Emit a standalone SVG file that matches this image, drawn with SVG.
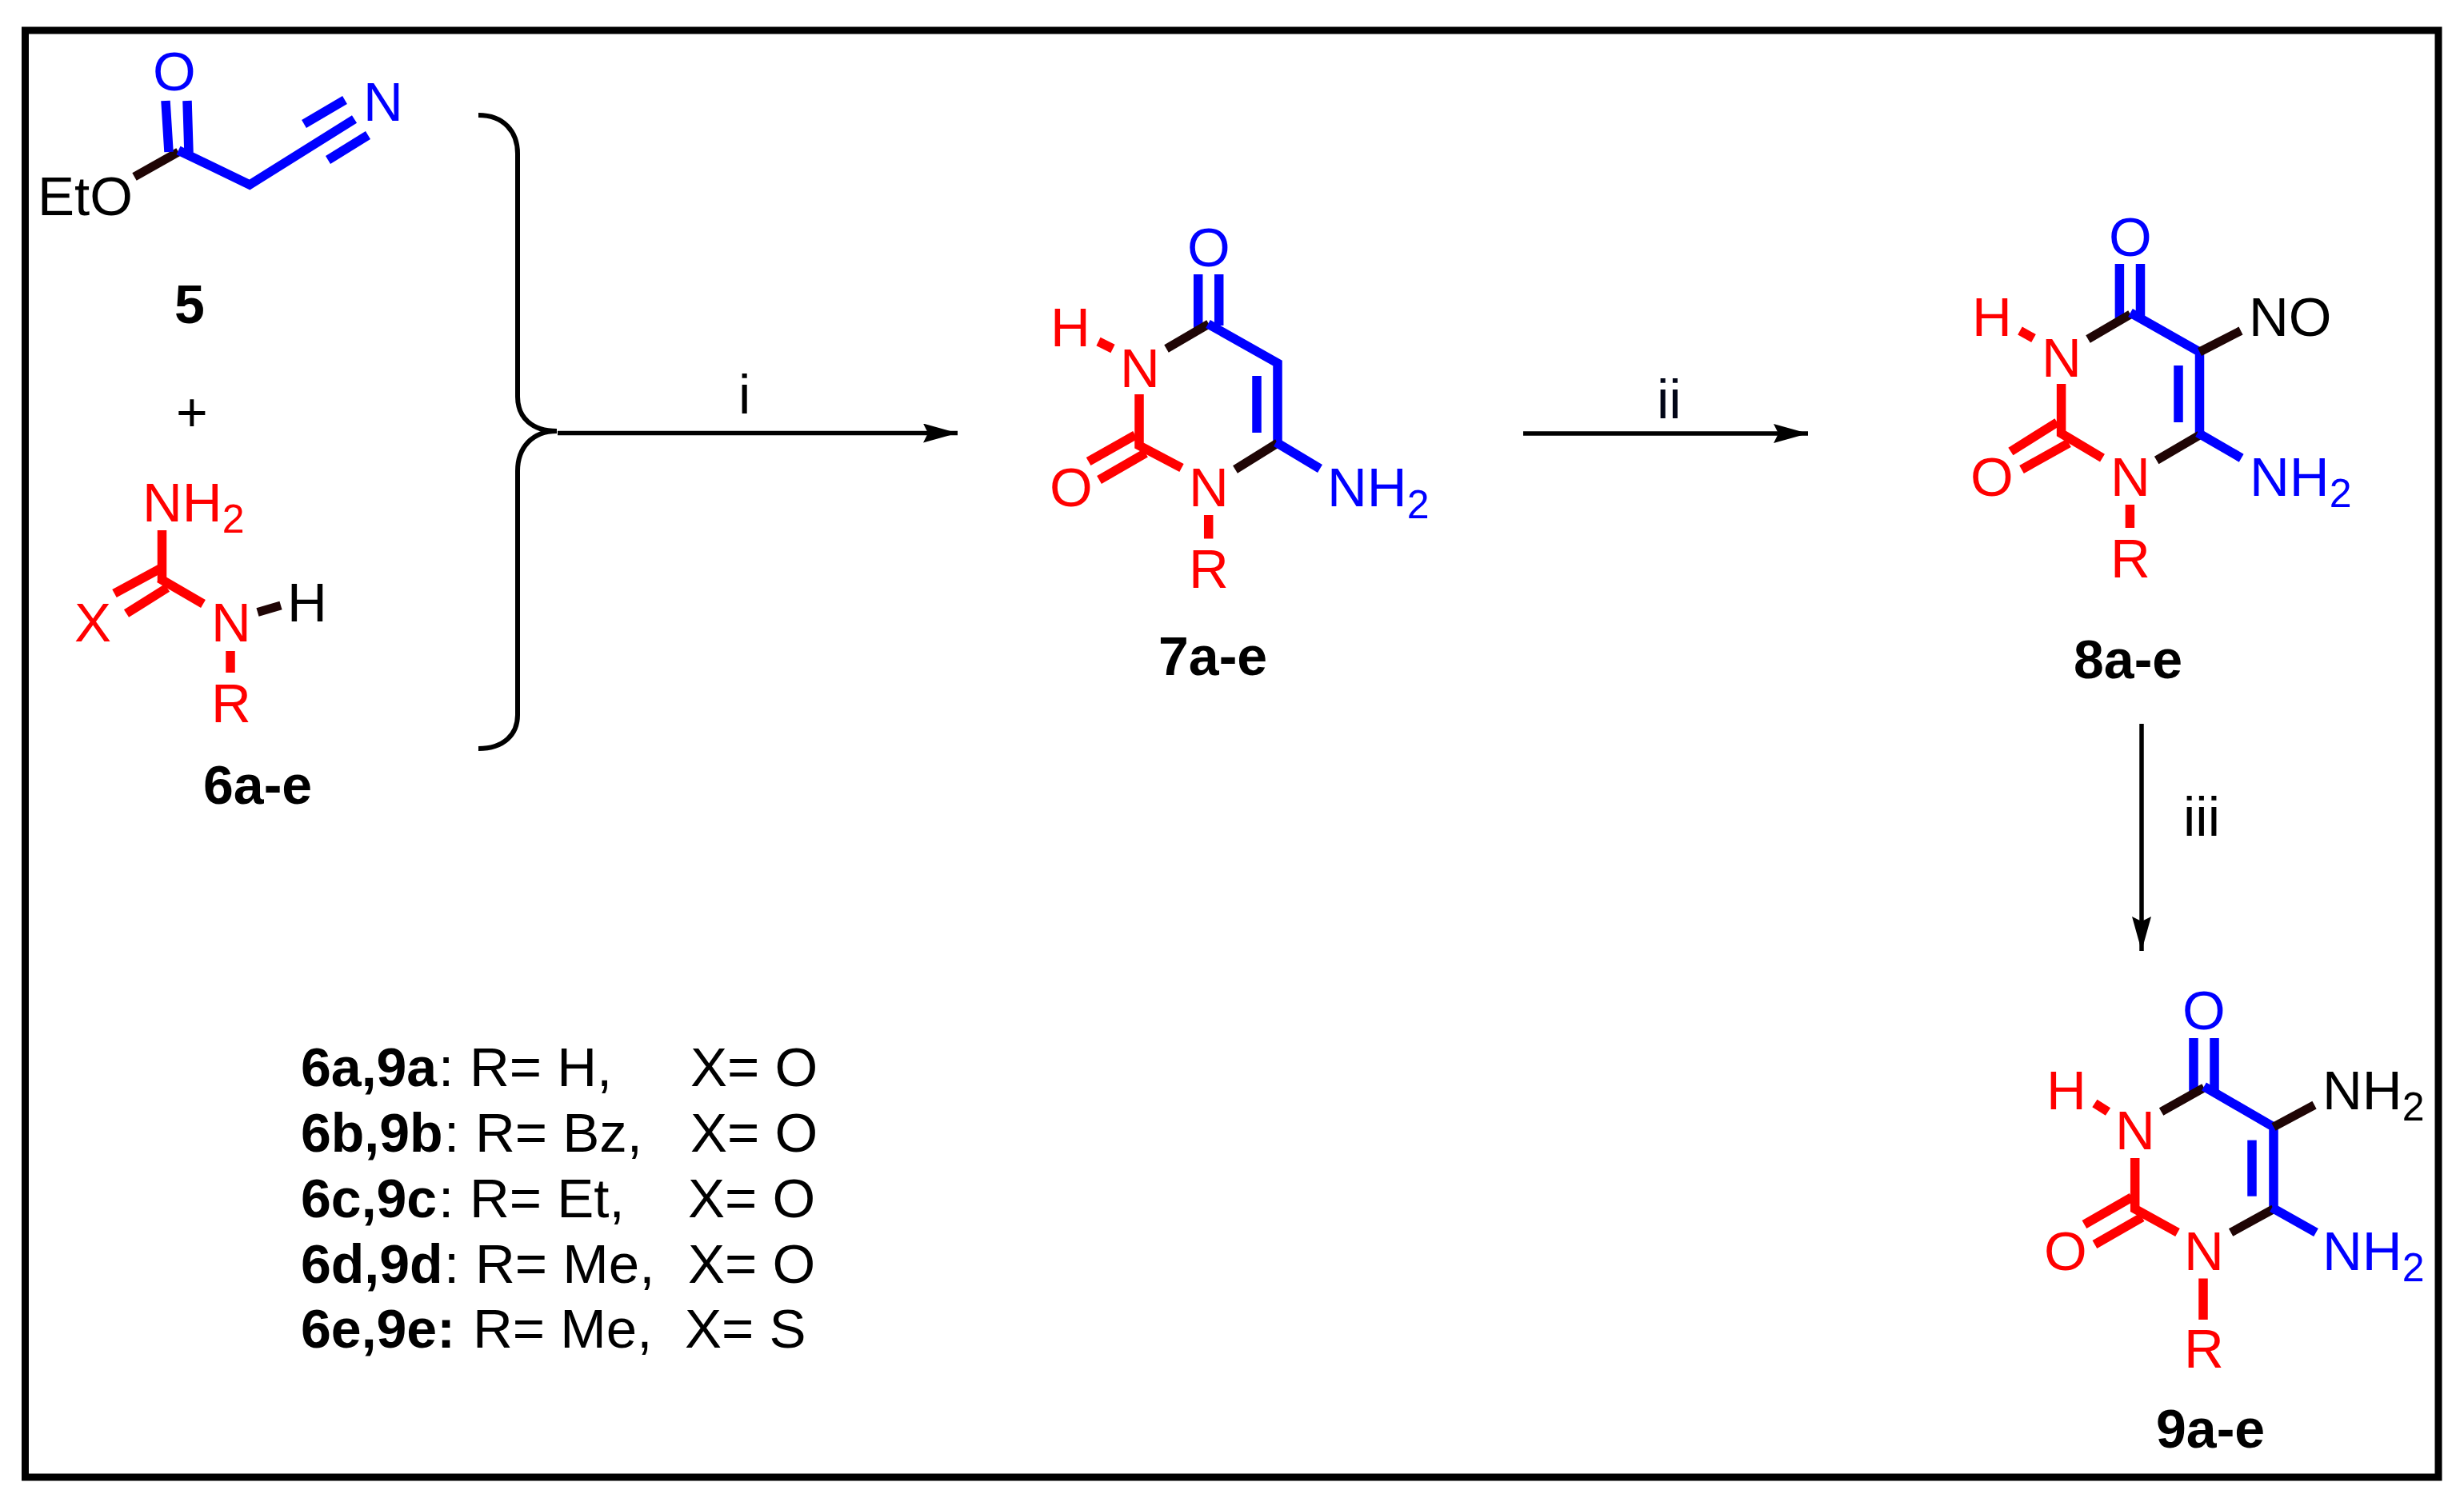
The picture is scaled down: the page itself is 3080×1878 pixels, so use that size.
<svg xmlns="http://www.w3.org/2000/svg" width="3080" height="1878" viewBox="0 0 3080 1878">
<style>
text{font-family:"Liberation Sans",Arial,sans-serif;font-size:69px;fill:#000}
.b{font-weight:700;font-size:68px}
.r{fill:#f00}.u{fill:#00f}
.s{font-size:50px}
line,path.l{fill:none;stroke-linecap:butt;stroke-linejoin:miter}
.R{stroke:#f00;stroke-width:11.500}
.U{stroke:#00f;stroke-width:11.500}
.K{stroke:#1f0505;stroke-width:11}
.A{stroke:#000;stroke-width:5.500}
</style>
<defs>
<marker id="head" markerUnits="userSpaceOnUse" markerWidth="50" markerHeight="30" refX="43" refY="12" orient="auto">
<path d="M0 0L43 12L0 24L6 12Z" fill="#000"/>
</marker>
</defs>
<rect id="frame" x="31.500" y="38" width="3016.500" height="1809" fill="#fff" stroke="#000" stroke-width="9"/>

<g id="connectors">
<path class="l" d="M598 144C630 144 647 165 647 192V496C647 522 665 539 696 539C665 539 647 560 647 589V894C647 918 630 936 598 936" stroke="#000" stroke-width="6"/>
<line class="A" x1="697" y1="541.500" x2="1197" y2="541.500" marker-end="url(#head)"/>
<line class="A" x1="1904" y1="542" x2="2260" y2="542" marker-end="url(#head)"/>
<line class="A" x1="2677" y1="905" x2="2677" y2="1189" marker-end="url(#head)"/>
<text x="923" y="517">i</text>
<text x="2071" y="523" style="fill:#020617">ii</text>
<text x="2729" y="1045">iii</text>
</g>

<g id="mol-5">
<line class="K" x1="168" y1="221" x2="223" y2="190"/>
<line class="U" x1="207" y1="126" x2="211" y2="190"/>
<line class="U" x1="234" y1="126" x2="236" y2="191"/>
<path class="l U" d="M223 188L312 231L443 149"/>
<line class="U" x1="380" y1="155" x2="431" y2="125"/>
<line class="U" x1="410" y1="200" x2="460" y2="169"/>
<text x="47" y="269">EtO</text>
<text x="191" y="113" class="u">O</text>
<text x="454" y="151" class="u">N</text>
<text x="218" y="404" class="b">5</text>
<text x="220" y="539" style="font-size:68px">+</text>
</g>

<g id="mol-6">
<line class="R" x1="202.500" y1="663" x2="202.500" y2="727"/>
<line class="R" x1="202" y1="710" x2="143" y2="742"/>
<line class="R" x1="209" y1="735" x2="158" y2="767"/>
<line class="R" x1="199" y1="723" x2="254" y2="755"/>
<line class="K" x1="322" y1="765.500" x2="351" y2="757"/>
<line class="R" x1="288" y1="814" x2="288" y2="841"/>
<text x="178" y="652" class="r">NH<tspan class="s" dy="14">2</tspan></text>
<text x="93" y="802" class="r">X</text>
<text x="264" y="802" class="r">N</text>
<text x="359" y="777">H</text>
<text x="264" y="903" class="r">R</text>
<text x="254" y="1005" class="b">6a-e</text>
</g>

<g id="mol-7">
<line class="U" x1="1497.700" y1="343" x2="1497.700" y2="413"/>
<line class="U" x1="1523.700" y1="343" x2="1523.700" y2="407"/>
<line class="K" x1="1458" y1="436" x2="1511" y2="405"/>
<path class="l U" d="M1510 405L1597 454V554"/>
<line class="U" x1="1571" y1="470" x2="1571" y2="541"/>
<line class="K" x1="1597" y1="554" x2="1544" y2="587"/>
<line class="U" x1="1595" y1="553" x2="1650" y2="586"/>
<line class="R" x1="1373" y1="427" x2="1391" y2="436"/>
<path class="l R" d="M1424 493V557L1477 585"/>
<line class="R" x1="1419" y1="544" x2="1360.600" y2="577"/>
<line class="R" x1="1432" y1="566.500" x2="1374" y2="600"/>
<line class="R" x1="1510.700" y1="644" x2="1510.700" y2="673.500"/>
<text x="1484" y="333" class="u">O</text>
<text x="1313" y="433" class="r">H</text>
<text x="1400" y="483.700" class="r">N</text>
<text x="1312" y="633" class="r">O</text>
<text x="1486" y="633" class="r">N</text>
<text x="1659" y="633" class="u">NH<tspan class="s" dy="15">2</tspan></text>
<text x="1486" y="735" class="r">R</text>
<text x="1448" y="844" class="b">7a-e</text>
</g>

<g id="mol-8">
<line class="U" x1="2649.400" y1="330" x2="2649.400" y2="399"/>
<line class="U" x1="2675.500" y1="330" x2="2675.500" y2="395"/>
<line class="K" x1="2610" y1="424" x2="2663" y2="393"/>
<path class="l U" d="M2663 391L2749.500 440V542"/>
<line class="U" x1="2723" y1="457" x2="2723" y2="528"/>
<line class="K" x1="2749.500" y1="440" x2="2801" y2="413.500"/>
<line class="K" x1="2749.500" y1="544" x2="2695.700" y2="575.500"/>
<line class="U" x1="2747" y1="541" x2="2801.700" y2="572.700"/>
<line class="R" x1="2525" y1="413.500" x2="2542" y2="423"/>
<path class="l R" d="M2576.600 480V542L2628 572.600"/>
<line class="R" x1="2571.500" y1="528" x2="2513.400" y2="564.500"/>
<line class="R" x1="2586" y1="554" x2="2527" y2="587"/>
<line class="R" x1="2662.400" y1="631" x2="2662.400" y2="660"/>
<text x="2636" y="320" class="u">O</text>
<text x="2465" y="420" class="r">H</text>
<text x="2552" y="470.600" class="r">N</text>
<text x="2811" y="419.600">NO</text>
<text x="2463" y="620" class="r">O</text>
<text x="2638" y="620" class="r">N</text>
<text x="2812" y="620" class="u">NH<tspan class="s" dy="14">2</tspan></text>
<text x="2638" y="721.600" class="r">R</text>
<text x="2592" y="848" class="b">8a-e</text>
</g>

<g id="mol-9">
<line class="U" x1="2742" y1="1298" x2="2742" y2="1368"/>
<line class="U" x1="2768" y1="1298" x2="2768" y2="1365"/>
<line class="K" x1="2701.600" y1="1390" x2="2755" y2="1360"/>
<path class="l U" d="M2755 1358.500L2842 1409V1511.600"/>
<line class="U" x1="2815" y1="1425.600" x2="2815" y2="1495.700"/>
<line class="K" x1="2842" y1="1409" x2="2893" y2="1381.600"/>
<line class="K" x1="2842" y1="1511.600" x2="2788.600" y2="1541"/>
<line class="U" x1="2840" y1="1510" x2="2895" y2="1541"/>
<line class="R" x1="2618.400" y1="1379.500" x2="2635" y2="1390"/>
<path class="l R" d="M2668.700 1448V1511.600L2722 1541"/>
<line class="R" x1="2664.600" y1="1497" x2="2605.400" y2="1531"/>
<line class="R" x1="2677.600" y1="1522" x2="2618.400" y2="1556"/>
<line class="R" x1="2754" y1="1598.500" x2="2754" y2="1650"/>
<text x="2728" y="1287" class="u">O</text>
<text x="2558" y="1387" class="r">H</text>
<text x="2644" y="1437" class="r">N</text>
<text x="2903" y="1387">NH<tspan class="s" dy="14">2</tspan></text>
<text x="2555" y="1588.400" class="r">O</text>
<text x="2730" y="1588.400" class="r">N</text>
<text x="2903" y="1588.400" class="u">NH<tspan class="s" dy="14">2</tspan></text>
<text x="2730" y="1709.700" class="r">R</text>
<text x="2695" y="1810" class="b">9a-e</text>
</g>

<g id="legend">
<text y="1358"><tspan x="376" class="b">6a,9a</tspan><tspan x="548">:</tspan><tspan x="587">R= H,</tspan><tspan x="863">X= O</tspan></text>
<text y="1440"><tspan x="376" class="b">6b,9b</tspan><tspan x="555">:</tspan><tspan x="594">R= Bz,</tspan><tspan x="863">X= O</tspan></text>
<text y="1522"><tspan x="376" class="b">6c,9c</tspan><tspan x="548">:</tspan><tspan x="587">R= Et,</tspan><tspan x="860">X= O</tspan></text>
<text y="1604"><tspan x="376" class="b">6d,9d</tspan><tspan x="555">:</tspan><tspan x="594">R= Me,</tspan><tspan x="860">X= O</tspan></text>
<text y="1685"><tspan x="376" class="b">6e,9e:</tspan><tspan x="591">R= Me,</tspan><tspan x="856">X= S</tspan></text>
</g>
</svg>
